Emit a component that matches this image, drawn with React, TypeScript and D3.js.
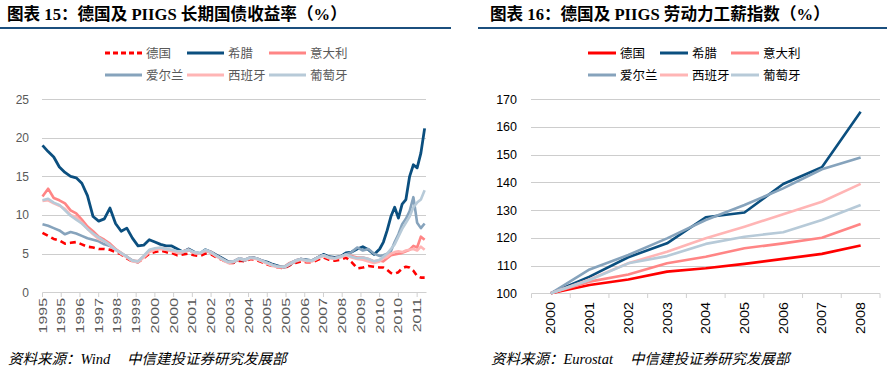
import React, { useEffect, useRef } from 'react';
import * as d3 from 'd3';

// 左图：长期国债收益率（%），横轴为月度序号（0 = 1995年1月）
const yieldIdx = [0, 3, 6, 9, 12, 15, 18, 21, 24, 27, 30, 33, 36, 39, 42, 45, 48, 51, 54, 57, 60, 63, 66, 69, 72, 75, 78, 81, 84, 87, 90, 93, 96, 99, 102, 105, 108, 111, 114, 117, 120, 123, 126, 129, 132, 135, 138, 141, 144, 147, 150, 153, 156, 159, 162, 165, 168, 171, 174, 177, 180, 182, 184, 186, 188, 190, 192, 194, 196, 198, 200, 202, 204];
const germanyYield = [7.7, 7.3, 6.9, 6.7, 6.3, 6.4, 6.5, 6.2, 5.9, 5.8, 5.6, 5.6, 5.5, 5.2, 4.9, 4.4, 4.0, 3.9, 4.4, 5.0, 5.2, 5.4, 5.2, 5.1, 4.8, 4.9, 5.0, 4.8, 4.7, 5.0, 4.9, 4.5, 4.2, 3.8, 3.8, 4.1, 4.0, 4.3, 4.2, 3.9, 3.6, 3.4, 3.2, 3.1, 3.5, 3.8, 4.0, 3.9, 3.9, 4.2, 4.5, 4.2, 4.1, 4.2, 4.5, 3.9, 3.1, 3.2, 3.4, 3.3, 3.2, 3.2, 2.9, 2.5, 2.4, 2.6, 3.1, 3.3, 3.2, 2.8, 2.1, 1.9, 1.9];
const greeceYield = [19.0, 18.2, 17.5, 16.2, 15.5, 15.0, 14.8, 14.1, 12.5, 9.8, 9.2, 9.5, 10.9, 8.9, 7.9, 8.3, 7.0, 6.0, 6.1, 6.8, 6.5, 6.2, 6.0, 6.0, 5.6, 5.2, 5.6, 5.2, 5.0, 5.5, 5.2, 4.8, 4.4, 4.0, 3.9, 4.3, 4.1, 4.5, 4.4, 4.1, 3.9, 3.6, 3.4, 3.2, 3.6, 4.0, 4.3, 4.2, 4.1, 4.5, 4.9, 4.6, 4.5, 4.6, 5.1, 5.2, 5.6, 5.9, 5.5, 4.9, 5.6, 6.5, 8.0, 9.8, 11.0, 9.6, 11.4, 12.0, 15.0, 16.5, 16.1, 18.0, 21.2];
const italyYield = [12.4, 13.4, 12.2, 11.9, 11.5, 10.6, 10.2, 9.4, 8.5, 7.9, 7.2, 6.8, 6.3, 5.6, 5.1, 4.6, 4.1, 4.0, 4.6, 5.3, 5.5, 5.7, 5.6, 5.4, 5.2, 5.3, 5.5, 5.1, 5.0, 5.4, 5.2, 4.7, 4.3, 3.9, 4.0, 4.4, 4.2, 4.5, 4.4, 4.1, 3.8, 3.5, 3.3, 3.3, 3.8, 4.1, 4.3, 4.1, 4.1, 4.5, 4.8, 4.5, 4.4, 4.6, 4.9, 4.7, 4.5, 4.5, 4.3, 4.0, 4.1, 4.0, 4.4, 4.8, 4.9, 5.0, 5.1, 5.3, 5.5, 6.0, 5.8, 7.2, 6.8];
const irelandYield = [8.8, 8.6, 8.3, 8.0, 7.5, 7.8, 7.6, 7.3, 7.0, 6.8, 6.6, 6.2, 6.0, 5.5, 5.0, 4.6, 4.1, 3.9, 4.6, 5.4, 5.6, 5.7, 5.5, 5.4, 5.2, 5.2, 5.5, 5.1, 5.0, 5.4, 5.1, 4.7, 4.3, 3.9, 4.0, 4.4, 4.2, 4.5, 4.4, 4.1, 3.8, 3.5, 3.3, 3.3, 3.7, 4.1, 4.3, 4.1, 4.1, 4.5, 4.8, 4.5, 4.4, 4.6, 4.9, 5.2, 5.8, 5.4, 5.6, 5.0, 4.7, 4.8, 5.0, 5.3, 6.5, 7.5, 8.8, 9.5, 10.5, 12.3, 9.0, 8.3, 8.9];
const spainYield = [11.8, 11.9, 11.5, 11.2, 10.8, 10.0, 9.7, 9.0, 8.2, 7.5, 6.9, 6.6, 6.1, 5.5, 5.0, 4.5, 4.0, 3.9, 4.5, 5.2, 5.5, 5.6, 5.5, 5.3, 5.1, 5.2, 5.5, 5.1, 5.0, 5.4, 5.1, 4.6, 4.2, 3.8, 3.9, 4.3, 4.1, 4.4, 4.3, 4.0, 3.7, 3.4, 3.2, 3.2, 3.6, 4.0, 4.2, 4.0, 4.0, 4.4, 4.7, 4.4, 4.3, 4.5, 4.8, 4.5, 4.3, 4.2, 4.0, 3.8, 4.0, 4.4, 4.6, 5.0, 5.2, 5.3, 5.2, 5.4, 5.5, 5.6, 5.4, 5.9, 5.5];
const portugalYield = [11.9, 12.1, 11.6, 11.3, 10.6, 9.9, 9.4, 8.9, 8.2, 7.6, 7.1, 6.6, 6.1, 5.5, 5.1, 4.6, 4.1, 4.0, 4.7, 5.5, 5.7, 5.8, 5.6, 5.5, 5.3, 5.3, 5.5, 5.2, 5.1, 5.5, 5.2, 4.7, 4.3, 3.9, 4.0, 4.4, 4.2, 4.5, 4.4, 4.1, 3.8, 3.5, 3.3, 3.3, 3.7, 4.1, 4.3, 4.1, 4.1, 4.5, 4.8, 4.5, 4.4, 4.6, 4.9, 4.6, 4.4, 4.5, 4.3, 4.0, 4.2, 4.6, 5.0, 5.6, 6.2, 7.2, 8.2, 9.0, 9.8, 11.0, 11.6, 12.0, 13.2];
const yieldTickLabels = ['1995', '1995', '1996', '1997', '1998', '1999', '2000', '2000', '2001', '2002', '2003', '2004', '2005', '2005', '2006', '2007', '2008', '2009', '2010', '2010', '2011'];

// 右图：劳动力工薪指数（2000 = 100）
const wageYears = ['2000', '2001', '2002', '2003', '2004', '2005', '2006', '2007', '2008'];
const germanyWage = [100, 103.0, 105.0, 107.8, 109.0, 110.6, 112.4, 114.2, 117.2];
const greeceWage = [100, 106.0, 113.0, 118.0, 127.4, 129.1, 139.4, 145.4, 165.4];
const italyWage = [100, 104.2, 106.8, 110.8, 113.2, 116.2, 118.0, 120.0, 125.0];
const irelandWage = [100, 108.6, 113.8, 119.8, 126.4, 131.8, 137.8, 144.7, 148.9];
const spainWage = [100, 105.0, 110.8, 115.0, 119.8, 124.0, 128.5, 133.0, 139.4];
const portugalWage = [100, 104.8, 110.8, 113.4, 117.8, 120.4, 122.0, 126.4, 131.8];

const countries = ['德国', '希腊', '意大利', '爱尔兰', '西班牙', '葡萄牙'];
const colors = ['#ff0000', '#0b4f7f', '#ff8585', '#86a3bc', '#ffb5b5', '#b7cad8'];

const TITLE_FONT = '"Times New Roman", "Liberation Serif", "Noto Sans CJK SC", serif';
const SANS = 'Arial, "Liberation Sans", "Noto Sans CJK SC", sans-serif';

const App = () => {
    const ref = useRef(null);

    useEffect(() => {
        const svg = d3.select(ref.current);
        svg.selectAll('*').remove();

        const yieldSeries = [germanyYield, greeceYield, italyYield, irelandYield, spainYield, portugalYield];
        const wageSeries = [germanyWage, greeceWage, italyWage, irelandWage, spainWage, portugalWage];

        // titles and rules
        const titles = [
            { x: 7, text: '图表 15：德国及 PIIGS 长期国债收益率（%）' },
            { x: 490, text: '图表 16：德国及 PIIGS 劳动力工薪指数（%）' }
        ];
        svg.append('g').selectAll('text').data(titles).join('text')
            .attr('x', d => d.x).attr('y', 20)
            .style('font', `bold 16.6px ${TITLE_FONT}`)
            .attr('fill', '#000')
            .text(d => d.text);
        svg.append('g').selectAll('line').data([[0, 451], [478, 887]]).join('line')
            .attr('x1', d => d[0]).attr('x2', d => d[1])
            .attr('y1', 28).attr('y2', 28)
            .attr('stroke', '#1b4f7e').attr('stroke-width', 2.2);

        // sources
        const sources = [
            { x: 8, x2: 127, src: 'Wind' },
            { x: 491, x2: 630, src: 'Eurostat' }
        ];
        const srcText = svg.append('g').selectAll('text').data(sources).join('text')
            .attr('y', 364)
            .style('font', `italic 14.5px ${TITLE_FONT}`)
            .attr('fill', '#000');
        srcText.append('tspan').attr('x', d => d.x).text(d => `资料来源：${d.src}`);
        srcText.append('tspan').attr('x', d => d.x2).text('中信建投证券研究发展部');

        // legends
        const drawLegend = (x0, cols, lineLen, textColor, dashedFirst) => {
            const g = svg.append('g');
            countries.forEach((name, i) => {
                const cx = cols[i % 3];
                const cy = i < 3 ? 53 : 75;
                g.append('line')
                    .attr('x1', x0 + cx).attr('x2', x0 + cx + lineLen)
                    .attr('y1', cy).attr('y2', cy)
                    .attr('stroke', colors[i]).attr('stroke-width', 3)
                    .attr('stroke-dasharray', dashedFirst && i === 0 ? '5,3' : null);
                g.append('text')
                    .attr('x', x0 + cx + lineLen + 4).attr('y', cy + 4.5)
                    .style('font', `12.5px ${SANS}`)
                    .attr('fill', textColor)
                    .text(name);
            });
        };
        drawLegend(105, [0, 82, 164], 37, '#595959', true);
        drawLegend(588, [0, 72, 143], 28, '#000', false);

        // ---------- left chart ----------
        const xL = d3.scaleLinear().domain([0, 205]).range([42.5, 426.5]);
        const yL = d3.scaleLinear().domain([0, 25]).range([292.3, 99]);
        const left = svg.append('g');

        left.append('g').selectAll('line').data(d3.range(5, 26, 5)).join('line')
            .attr('x1', xL(0)).attr('x2', xL(205))
            .attr('y1', d => Math.round(yL(d)) + 0.5).attr('y2', d => Math.round(yL(d)) + 0.5)
            .attr('stroke', '#9a9a9a').attr('stroke-dasharray', '1,1');

        left.append('g').selectAll('text').data(d3.range(0, 26, 5)).join('text')
            .attr('x', 29).attr('y', d => yL(d) + 4.5)
            .attr('text-anchor', 'end')
            .style('font', `12px ${SANS}`)
            .attr('fill', '#595959')
            .text(d => d);

        left.append('line')
            .attr('x1', xL(0)).attr('x2', xL(205))
            .attr('y1', 292.5).attr('y2', 292.5)
            .attr('stroke', '#d0d0d0');
        const leftTicks = yieldTickLabels.map((t, i) => ({ t, c: i * 10 }));
        left.append('g').selectAll('line').data(leftTicks).join('line')
            .attr('x1', d => xL(d.c)).attr('x2', d => xL(d.c))
            .attr('y1', 292.5).attr('y2', 297)
            .attr('stroke', '#d0d0d0');
        left.append('g').selectAll('text').data(leftTicks).join('text')
            .attr('transform', d => `translate(${xL(d.c) + 4},${298}) rotate(-90) scale(1.45,1)`)
            .attr('text-anchor', 'end')
            .style('font', `11px ${SANS}`)
            .attr('fill', '#595959')
            .text(d => d.t);

        const lineL = d3.line().x((d, i) => xL(yieldIdx[i])).y(d => yL(d)).curve(d3.curveLinear);
        left.append('g').selectAll('path').data(yieldSeries).join('path')
            .attr('d', d => lineL(d))
            .attr('fill', 'none')
            .attr('stroke', (d, i) => colors[i])
            .attr('stroke-width', (d, i) => (i === 1 ? 2.8 : 2.6))
            .attr('stroke-linejoin', 'round')
            .attr('stroke-dasharray', (d, i) => (i === 0 ? '6,4' : null));

        // ---------- right chart ----------
        const xR = d3.scaleBand().domain(wageYears).range([531.5, 880]).padding(0);
        const yR = d3.scaleLinear().domain([100, 170]).range([293.3, 99]);
        const right = svg.append('g');

        right.append('g').selectAll('line').data(d3.range(110, 171, 10)).join('line')
            .attr('x1', 531.5).attr('x2', 880)
            .attr('y1', d => Math.round(yR(d)) + 0.5).attr('y2', d => Math.round(yR(d)) + 0.5)
            .attr('stroke', '#9a9a9a').attr('stroke-dasharray', '1,1');

        right.append('g').selectAll('text').data(d3.range(100, 171, 10)).join('text')
            .attr('x', 517).attr('y', d => yR(d) + 4.5)
            .attr('text-anchor', 'end')
            .style('font', `12.5px ${SANS}`)
            .attr('fill', '#000')
            .text(d => d);

        right.append('line')
            .attr('x1', 531.5).attr('x2', 880)
            .attr('y1', 293.5).attr('y2', 293.5)
            .attr('stroke', '#d0d0d0');
        const bandEdges = wageYears.map(y => xR(y)).concat([880]);
        right.append('g').selectAll('line').data(bandEdges).join('line')
            .attr('x1', d => d).attr('x2', d => d)
            .attr('y1', 293.5).attr('y2', 298)
            .attr('stroke', '#d0d0d0');
        right.append('g').selectAll('text').data(wageYears).join('text')
            .attr('transform', d => `translate(${xR(d) + xR.bandwidth() / 2 + 4.5},${302}) rotate(-90) scale(1.15,1)`)
            .attr('text-anchor', 'end')
            .style('font', `12.5px ${SANS}`)
            .attr('fill', '#000')
            .text(d => d);

        const lineR = d3.line().x((d, i) => xR(wageYears[i]) + xR.bandwidth() / 2).y(d => yR(d));
        right.append('g').selectAll('path').data(wageSeries).join('path')
            .attr('d', d => lineR(d))
            .attr('fill', 'none')
            .attr('stroke', (d, i) => colors[i])
            .attr('stroke-width', 2.6)
            .attr('stroke-linejoin', 'round');
    }, []);

    return (
        <svg
            ref={ref}
            width={887}
            height={374}
            style={{ position: 'absolute', left: 0, top: 0, background: '#fff' }}
        />
    );
};

export default App;
